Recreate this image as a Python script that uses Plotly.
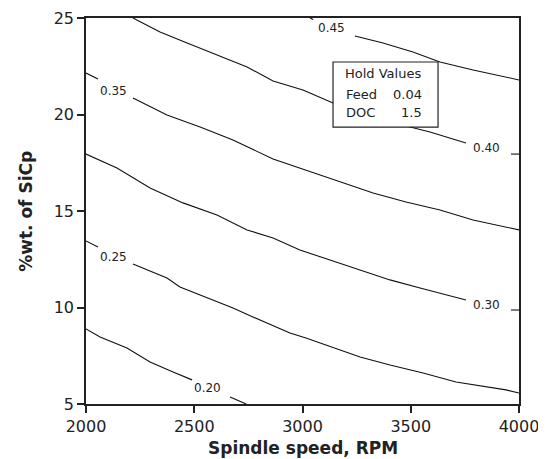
import plotly.graph_objects as go

# Contour levels and traced lines (data coordinates); None marks label gaps
levels = ["0.45", "0.40", "0.35", "0.30", "0.25", "0.20"]

x_045 = [3035, 3049, None, 3242, 3372, 3510, 3635, 3788, 4000]
y_045 = [25.0, 24.92, None, 24.07, 23.70, 23.24, 22.72, 22.31, 21.79]

x_040 = [2217, 2342, 2467, 2605, 2744, 2864, 3002, 3141, 3497, 3589, 3755, None, 3963, 4000]
y_040 = [25.0, 24.27, 23.70, 23.08, 22.46, 21.74, 21.27, 20.60, 19.35, 19.09, 18.52, None, 17.95, 17.95]

x_035 = [2000, 2055, None, 2217, 2374, 2527, 2679, 2864, 3016, 3173, 3326, 3478, 3635, 3788, 3972, 4000]
y_035 = [22.15, 21.84, None, 20.86, 19.97, 19.35, 18.68, 17.69, 17.12, 16.50, 15.93, 15.47, 15.05, 14.53, 14.12, 14.02]

x_030 = [2000, 2143, 2296, 2448, 2605, 2744, 2864, 2988, 3127, 3266, 3404, 3543, 3755, None, 3963, 4000]
y_030 = [17.95, 17.23, 16.19, 15.42, 14.79, 14.02, 13.60, 12.98, 12.46, 11.94, 11.43, 11.01, 10.39, None, 9.87, 9.87]

x_025 = [2000, 2055, None, 2217, 2374, 2434, 2527, 2679, 2771, 2864, 2942, 3016, 3141, 3266, 3404, 3557, 3709, 3788, 3940, 4000]
y_025 = [13.45, 13.14, None, 12.25, 11.53, 11.06, 10.65, 9.98, 9.51, 9.05, 8.68, 8.42, 7.95, 7.44, 7.02, 6.61, 6.14, 5.99, 5.73, 5.57]

x_020 = [2000, 2065, 2189, 2296, 2402, 2490, None, 2665, 2740]
y_020 = [8.89, 8.47, 7.90, 7.18, 6.66, 6.25, None, 5.36, 5.0]

# label positions for each contour level
label_x = [3132, 3848, 2127, 3848, 2127, 2561]
label_y = [24.48, 18.26, 21.22, 10.13, 12.64, 5.83]

hold_names = ["Feed", "DOC"]
hold_values = ["0.04", "1.5"]

xticks = [2000, 2500, 3000, 3500, 4000]
yticks = [5, 10, 15, 20, 25]

x_title = "Spindle speed, RPM"
y_title = "%wt. of SiCp"

lines = [(x_045, y_045), (x_040, y_040), (x_035, y_035), (x_030, y_030), (x_025, y_025), (x_020, y_020)]

fig = go.Figure()
for (xs, ys), lv in zip(lines, levels):
    fig.add_trace(go.Scatter(x=xs, y=ys, mode="lines", name=lv,
                             line=dict(color="#111111", width=1.1),
                             connectgaps=False, showlegend=False, hoverinfo="skip"))

FONT = "DejaVu Sans"
annotations = []
for lv, lx, ly in zip(levels, label_x, label_y):
    annotations.append(dict(x=lx, y=ly, xref="x", yref="y", text=lv, showarrow=False,
                            font=dict(family=FONT, size=12, color="#222222")))

# Hold values box
fig.add_shape(type="rect", xref="x", yref="y", x0=3141, x1=3626, y0=19.35, y1=22.72,
              line=dict(color="#222222", width=1.2), fillcolor="white", layer="above")
annotations.append(dict(x=3187, y=22.10, xref="x", yref="y", text="Hold Values", showarrow=False,
                        xanchor="left", font=dict(family=FONT, size=13, color="#222222")))
for name, val, yy in zip(hold_names, hold_values, [21.06, 20.08]):
    annotations.append(dict(x=3190, y=yy, xref="x", yref="y", text=name, showarrow=False,
                            xanchor="left", font=dict(family=FONT, size=13, color="#222222")))
    annotations.append(dict(x=3562, y=yy, xref="x", yref="y", text=val, showarrow=False,
                            xanchor="right", font=dict(family=FONT, size=13, color="#222222")))

# axis titles
annotations.append(dict(x=0.5, y=-0.114, xref="paper", yref="paper", text="<b>" + x_title + "</b>",
                        showarrow=False, xanchor="center", yanchor="middle",
                        font=dict(family=FONT, size=17, color="#222222")))
annotations.append(dict(x=-0.139, y=0.5, xref="paper", yref="paper", text="<b>" + y_title + "</b>",
                        showarrow=False, xanchor="center", yanchor="middle", textangle=-90,
                        font=dict(family=FONT, size=17, color="#222222")))

axis_common = dict(showgrid=False, zeroline=False, showline=True, linecolor="#222222",
                   linewidth=1.5, mirror=True, ticks="outside", ticklen=7, tickwidth=1.5,
                   tickcolor="#222222", automargin=False,
                   tickfont=dict(family=FONT, size=16, color="#222222"))

fig.update_layout(
    width=538, height=451,
    margin=dict(l=78, r=27, t=10, b=55),
    paper_bgcolor="white", plot_bgcolor="white",
    annotations=annotations,
    xaxis=dict(range=[2000, 4000], tickvals=xticks, **axis_common),
    yaxis=dict(range=[5, 25], tickvals=yticks, **axis_common),
)

fig.write_html("out.html")
